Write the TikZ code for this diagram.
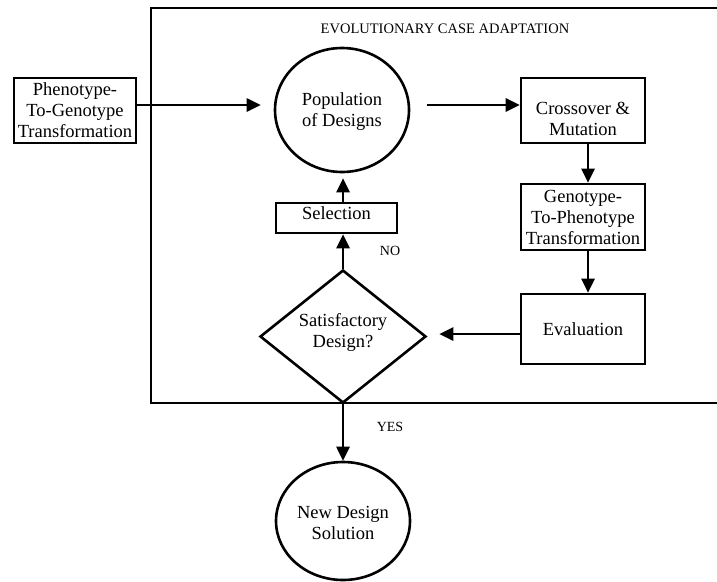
\documentclass[tikz,border=0pt]{standalone}
\usepackage{fontspec}
\setmainfont{Liberation Serif}
\usetikzlibrary{shapes.geometric,arrows.meta}
\begin{document}
\begin{tikzpicture}[x=1pt,y=-1pt,
  every node/.style={inner sep=0pt, align=center, font=\fontsize{18.5}{21}\selectfont},
  procbox/.style={draw, line width=2.6pt, rectangle},
  roundbox/.style={draw, line width=2.6pt, ellipse},
  decision/.style={draw, line width=2.6pt, diamond},
  smalllabel/.style={font=\fontsize{14}{16}\selectfont},
  arr/.style={line width=2.7pt, -{Triangle[length=14pt,width=13pt]}},
  frame/.style={line width=2.4pt}
]
\useasboundingbox (0,0) rectangle (717,581);

% adaptation frame (open on the right)
\coordinate (fbl) at (151,404);
\coordinate (ftl) at (151,8);
\coordinate (ftr) at (717,8);
\coordinate (fbr) at (717,403);
\coordinate (fbl2) at (151,403);
\draw[frame] (fbl) -- (ftl) -- (ftr);
\draw[frame] (fbl2) -- (fbr);
\node[font=\fontsize{14.5}{16}\selectfont] (title) at (445,29) {EVOLUTIONARY CASE ADAPTATION};

% nodes
\node[procbox, minimum width=122, minimum height=65] (pheno) at (75,110.5)
  {Phenotype-\\To-Genotype\\Transformation};
\node[roundbox, minimum width=134, minimum height=124] (pop) at (342,110) {};
\node (poptext) at (342,111.5) {Population\\of Designs};
\node[procbox, minimum width=124, minimum height=65] (cross) at (583,110.5) {};
\node (crosstext) at (583,119) {Crossover \&\\Mutation};
\node[procbox, minimum width=124, minimum height=66] (geno) at (583,217)
  {Genotype-\\To-Phenotype\\Transformation};
\node[procbox, minimum width=124, minimum height=70] (eval) at (583,329)
  {Evaluation};
\node[decision, minimum width=166, minimum height=133] (sat) at (343,336.5) {};
\node (sattext) at (343,332.5) {Satisfactory\\Design?};
\node[procbox, minimum width=121, minimum height=30, text height=13pt, text depth=11pt] (sel) at (336.5,218)
  {Selection};
\node[roundbox, minimum width=134, minimum height=118] (new) at (343,521) {};
\node (newtext) at (343,522.5) {New Design\\Solution};

\node[smalllabel] (no) at (390,251) {NO};
\node[smalllabel] (yes) at (390,427) {YES};

% connectors
\draw[arr] ([yshift=5.5pt]pheno.east) -- ([xshift=-13pt,yshift=5pt]pop.west);
\draw[arr] ([xshift=17pt,yshift=5pt]pop.east) -- ([yshift=5.5pt]cross.west);
\draw[arr] ([xshift=5pt]cross.south) -- ([xshift=5pt]geno.north);
\draw[arr] ([xshift=5pt]geno.south) -- ([xshift=5pt]eval.north);
\draw[arr] ([yshift=-5pt]eval.west) -- ([xshift=12pt,yshift=2.5pt]sat.east);
\draw[arr] (sat.north) -- (sel.south -| sat.north);
\draw[arr, shorten >=5pt] (sel.north -| sat.north) -- (pop.south -| sat.north);
\draw[arr] (sat.south) -- (new.north);
\end{tikzpicture}
\end{document}
